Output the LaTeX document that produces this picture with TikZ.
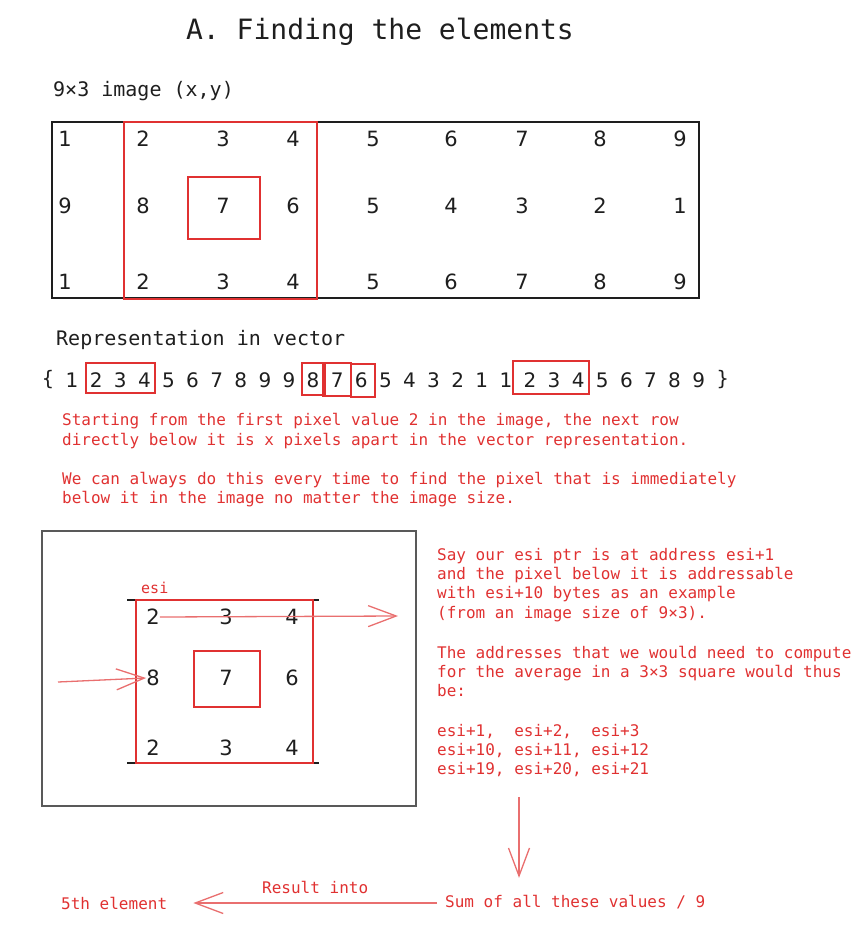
\documentclass[tikz,border=0pt]{standalone}
\usepackage{fontspec}
\setmonofont{DejaVu Sans Mono}
\newfontfamily\digitfont{DejaVu Sans}
\usetikzlibrary{arrows.meta}
\definecolor{sketchred}{HTML}{E03131}
\definecolor{ink}{HTML}{1E1E1E}

\begin{document}
\begin{tikzpicture}[x=1pt, y=-1pt,
  mono/.style={font=\fontsize{16}{19}\ttfamily, inner sep=0pt, anchor=west, text height=13pt, text depth=1pt},
  note/.style={mono, text=sketchred},
  digit/.style={font=\fontsize{21}{24}\digitfont, text=ink, inner sep=0pt},
  redbox/.style={draw=sketchred, line width=1.2pt},
  sketcharrow/.style={draw=sketchred!70, line width=1.3pt, -{Straight Barb[length=28pt, width=21pt]}}]
\useasboundingbox (0,0) rectangle (864,925);

% heading and labels
\node[text=ink, font=\fontsize{28}{32}\ttfamily] (title) at (380,32) {A. Finding the elements};
\node[mono, text=ink, font=\fontsize{20}{24}\ttfamily] (imglabel) at (53,91) {9×3 image (x,y)};
\node[mono, text=ink, font=\fontsize{20}{24}\ttfamily] (veclabel) at (56,339) {Representation in vector};

% the 9x3 image
\draw[ink, line width=1.6pt] (52,122) rectangle (699,298);
\foreach \row [count=\r] in {{1,2,3,4,5,6,7,8,9},{9,8,7,6,5,4,3,2,1},{1,2,3,4,5,6,7,8,9}}
  \foreach \v [count=\c] in \row {
    \pgfmathsetmacro\px{{65,143,223,293,373,451,522,600,680}[\c-1]}
    \pgfmathsetmacro\py{{139,206,282}[\r-1]}
    \node[digit] (g-\r-\c) at (\px,\py) {\v};
  }
\draw[redbox] (124,122) rectangle (317,299);
\draw[redbox] (188,177) rectangle (260,239);

% vector
\foreach \v [count=\k from 0] in {\{,1,2,3,4,5,6,7,8,9,9,8,7,6,5,4,3,2,1,1,2,3,4,5,6,7,8,9,\}}
  \node[digit, font=\fontsize{20}{24}\digitfont] (vec-\k) at (48+24.1*\k,380) {\v};
\draw[redbox] (86,363) rectangle (155,393);
\draw[redbox] (302,363) rectangle (325,395);
\draw[redbox] (323,363) rectangle (351,396);
\draw[redbox] (351,364) rectangle (375,397);
\draw[redbox] (513,361) rectangle (589,394);

\foreach \txt [count=\i] in {{Starting from the first pixel value 2 in the image, the next row},
    {directly below it is x pixels apart in the vector representation.}}
  \node[note] (rownote-\i) at (62,419+20*\i-20) {\txt};
\foreach \txt [count=\i] in {{We can always do this every time to find the pixel that is immediately},
    {below it in the image no matter the image size.}}
  \node[note] (sizenote-\i) at (62,478+19.5*\i-19.5) {\txt};

% window on the image
\draw[black!65, line width=1.3pt] (42,531) rectangle (416,806);
\draw[ink, line width=1.6pt] (127,600) -- (319,600);
\draw[ink, line width=1.6pt] (127,763) -- (319,763);
\draw[redbox] (136,600) rectangle (313,763);
\draw[redbox] (194,651) rectangle (260,707);
\node[note, font=\fontsize{15}{18}\ttfamily] (esi) at (141,587) {esi};
\foreach \row [count=\r] in {{2,3,4},{8,7,6},{2,3,4}}
  \foreach \v [count=\c] in \row {
    \pgfmathsetmacro\px{{153,226,292}[\c-1]}
    \pgfmathsetmacro\py{{617,678,748}[\r-1]}
    \node[digit] (s-\r-\c) at (\px,\py) {\v};
  }
\coordinate (rowtip) at (398,616);
\coordinate (rowstart) at (58,682);
\draw[sketcharrow] (s-1-1.east) -- (rowtip);
\draw[sketcharrow] (rowstart) -- (s-2-1.west);

% addresses
\foreach \txt [count=\i] in {{Say our esi ptr is at address esi+1},
    {and the pixel below it is addressable},
    {with esi+10 bytes as an example},
    {(from an image size of 9×3).}}
  \node[note] (say-\i) at (437,554+19.4*\i-19.4) {\txt};
\foreach \txt [count=\i] in {{The addresses that we would need to compute},
    {for the average in a 3×3 square would thus},
    {be:}}
  \node[note] (need-\i) at (437,652+19.4*\i-19.4) {\txt};
\foreach \txt [count=\i] in {{esi+1,\ \ esi+2,\ \ esi+3},
    {esi+10, esi+11, esi+12},
    {esi+19, esi+20, esi+21}}
  \node[note] (addr-\i) at (437,730+19.4*\i-19.4) {\txt};

% result
\node[note] (sum) at (445,901) {Sum of all these values / 9};
\node[note] (elem) at (61,903) {5th element};
\coordinate (droptop) at (519,797);
\draw[sketcharrow, shorten >=16pt] (droptop) -- (droptop |- sum.north);
\draw[sketcharrow] ([xshift=-8pt, yshift=-2pt]sum.west) -- ([xshift=26pt]elem.east)
  node[midway, above=5pt, font=\fontsize{16}{19}\ttfamily, text=sketchred] (resultlabel) {Result into};
\end{tikzpicture}
\end{document}
